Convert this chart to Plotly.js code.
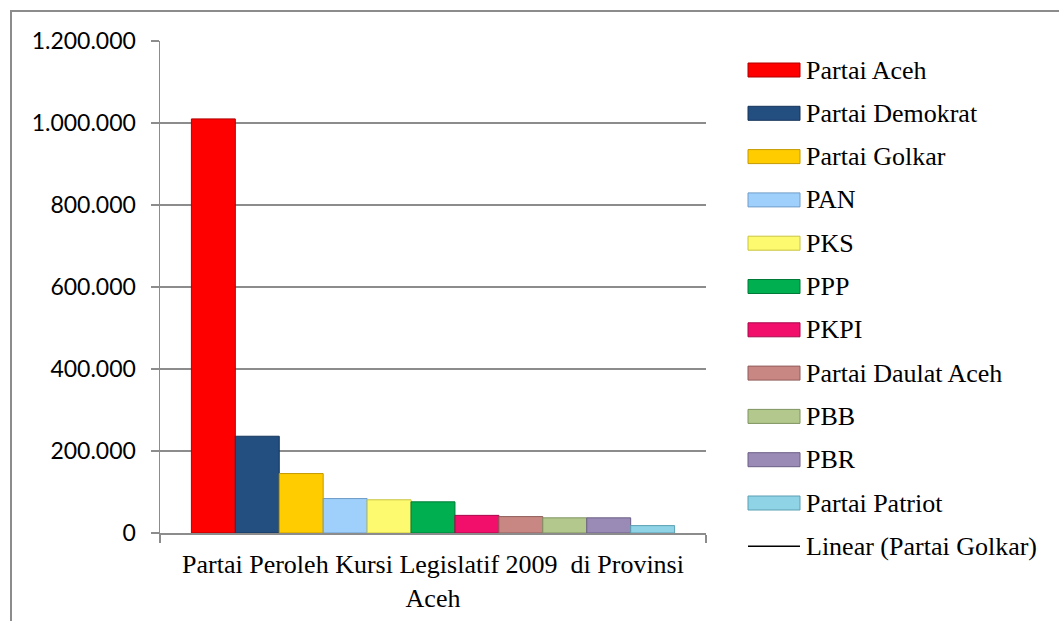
<!DOCTYPE html>
<html>
<head>
<meta charset="utf-8">
<script src="https://cdn.plot.ly/plotly-3.0.1.min.js"></script>
<style>
  html, body { margin: 0; padding: 0; background: #ffffff; overflow: hidden; }
  #wrap { position: relative; width: 1059px; height: 621px; }
  #chart { position: absolute; left: 0; top: 0; width: 1059px; height: 621px; }
  #frame { position: absolute; left: 10px; top: 10px; width: 1200px; height: 800px;
           border-left: 2px solid #8c8c8c; border-top: 2px solid #8c8c8c; pointer-events: none; }
</style>
</head>
<body>
<div id="wrap">
  <div id="chart"></div>
  <div id="frame"></div>
</div>
<script>
// ---- data ----
const category = ["Partai Peroleh Kursi Legislatif 2009 \u00a0di Provinsi<br>Aceh"];
const parties = ["Partai Aceh", "Partai Demokrat", "Partai Golkar", "PAN", "PKS", "PPP",
                 "PKPI", "Partai Daulat Aceh", "PBB", "PBR", "Partai Patriot"];
const votes = [1010000, 236000, 145000, 84000, 81000, 76000, 43000, 40000, 37000, 37000, 18000];
const trendName = "Linear (Partai Golkar)";
const yTicks = [0, 200000, 400000, 600000, 800000, 1000000, 1200000];

// ---- styles ----
const fills = ["#fe0000", "#234e80", "#ffcc00", "#9fd0fb", "#fdfa6f", "#00b050",
               "#f20f6c", "#c98783", "#b3c88c", "#9a8bb6", "#8fd3e6"];
const edges = ["#b00000", "#16355a", "#c49a00", "#6e9cc8", "#c8c440", "#007a38",
               "#a8084a", "#8f5d5a", "#7f9460", "#6b5e86", "#5c9fb3"];

const serif = "Liberation Serif";
const sans = "Lato";
const gridCol = "#8c8c8c";

const L = 160, R = 353, T = 41, B = 88;
const W = 1059, H = 621;
const plotW = W - L - R, plotH = H - T - B;
const px2x = p => (p - L) / plotW;
const py2y = p => (H - B - p) / plotH;

const traces = parties.map((name, i) => ({
  type: "bar",
  name: name,
  x: category,
  y: [votes[i]],
  marker: { color: fills[i], line: { color: edges[i], width: 1 } },
  showlegend: false,
  hoverinfo: "skip"
}));
// trend line series (single category -> no visible line)
traces.push({
  type: "scatter", mode: "lines", name: trendName,
  x: category, y: [votes[2]],
  line: { color: "#000000", width: 1.5 },
  showlegend: false, hoverinfo: "skip"
});

// custom legend (wide swatches like the original)
const shapes = [];
const annotations = [];
const legTop = 70, legStep = 43.3, swX0 = 748, swX1 = 800, swH = 14, txtX = 804;
const legendNames = parties.concat([trendName]);
legendNames.forEach((name, i) => {
  const cy = legTop + i * legStep;
  if (i < parties.length) {
    shapes.push({
      type: "rect", xref: "paper", yref: "paper",
      x0: px2x(swX0), x1: px2x(swX1), y0: py2y(cy + swH / 2), y1: py2y(cy - swH / 2),
      fillcolor: fills[i], line: { color: edges[i], width: 1 }
    });
  } else {
    shapes.push({
      type: "line", xref: "paper", yref: "paper",
      x0: px2x(swX0), x1: px2x(swX1), y0: py2y(cy), y1: py2y(cy),
      line: { color: "#000000", width: 1.5 }
    });
  }
  annotations.push({
    xref: "paper", yref: "paper", x: px2x(txtX), y: py2y(cy),
    xanchor: "left", yanchor: "middle", showarrow: false,
    text: name, font: { family: serif, size: 26, color: "#000000" }
  });
});

const layout = {
  width: W, height: H,
  margin: { l: L, r: R, t: T, b: B, pad: 0 },
  paper_bgcolor: "#ffffff", plot_bgcolor: "#ffffff",
  separators: ",.",
  barmode: "group",
  bargap: 0.115,
  bargroupgap: 0,
  showlegend: false,
  xaxis: {
    type: "category",
    showline: true, linecolor: gridCol, linewidth: 1.5,
    ticks: "outside", tickson: "boundaries", ticklen: 8, tickcolor: gridCol, tickwidth: 1.5,
    showgrid: false, zeroline: false,
    ticklabelstandoff: 7,
    tickfont: { family: serif, size: 26, color: "#000000" },
    fixedrange: true
  },
  yaxis: {
    range: [0, 1200000],
    tickvals: yTicks,
    tickformat: ",d",
    showline: true, linecolor: gridCol, linewidth: 1.5,
    ticks: "outside", ticklen: 8, tickcolor: gridCol, tickwidth: 1.5,
    showgrid: true, gridcolor: gridCol, gridwidth: 1.5,
    zeroline: false,
    ticklabelstandoff: 10,
    tickfont: { family: sans, size: 23, color: "#000000" },
    fixedrange: true
  },
  shapes: shapes,
  annotations: annotations
};

Plotly.newPlot("chart", traces, layout, { displayModeBar: false, staticPlot: true });
</script>
</body>
</html>
